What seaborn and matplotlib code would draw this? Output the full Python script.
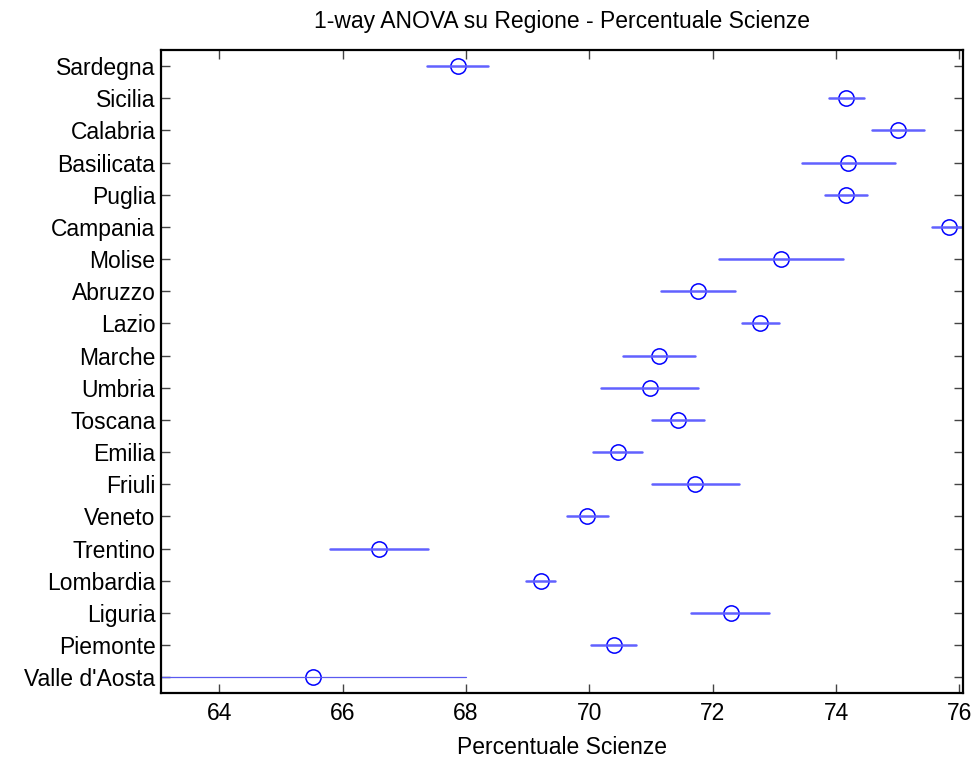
import numpy as np
import pandas as pd
import matplotlib
matplotlib.use("Agg")
import matplotlib.pyplot as plt
import seaborn as sns

# Regioni dall'alto verso il basso
regioni = ["Sardegna", "Sicilia", "Calabria", "Basilicata", "Puglia",
           "Campania", "Molise", "Abruzzo", "Lazio", "Marche", "Umbria",
           "Toscana", "Emilia", "Friuli", "Veneto", "Trentino", "Lombardia",
           "Liguria", "Piemonte", "Valle d'Aosta"]

# Medie stimate e intervalli di confronto
medie = [67.87, 74.17, 75.00, 74.20, 74.17, 75.83, 73.11, 71.77, 72.77, 71.13,
         70.98, 71.43, 70.46, 71.72, 69.97, 66.59, 69.21, 72.29, 70.40, 65.52]
inferiori = [67.36, 73.88, 74.58, 73.45, 73.82, 75.55, 72.11, 71.17, 72.47, 70.55,
             70.19, 71.01, 70.06, 71.01, 69.64, 65.80, 68.97, 71.65, 70.03, 63.04]
superiori = [68.35, 74.45, 75.42, 74.95, 74.51, 76.11, 74.11, 72.37, 73.08, 71.71,
             71.77, 71.86, 70.85, 72.43, 70.31, 67.38, 69.45, 72.92, 70.76, 68.00]

x_ticks = [64, 66, 68, 70, 72, 74, 76]


def disegna_grafico():
    # Tabella lunga: per ogni regione limite inferiore, media, limite superiore
    df = pd.DataFrame({
        "Regione": np.repeat(regioni, 3),
        "Valore": np.column_stack([inferiori, medie, superiori]).ravel(),
    })

    sns.set_theme(style="white")
    plt.rcParams["font.family"] = ["Liberation Sans", "DejaVu Sans"]
    plt.rcParams["text.color"] = "black"
    plt.rcParams["axes.labelcolor"] = "black"
    plt.rcParams["xtick.labelcolor"] = "black"
    plt.rcParams["ytick.labelcolor"] = "black"

    fig = plt.figure(figsize=(9.77, 7.59), dpi=100)
    ax = fig.add_axes([0.1648, 0.0866, 0.8206, 0.8475])

    # Mediana dei tre valori = media; intervallo 0-100 percentile = min-max
    sns.pointplot(data=df, x="Valore", y="Regione", order=regioni,
                  estimator="median", errorbar=("pi", 100),
                  linestyle="none", marker="o", markersize=11,
                  markerfacecolor="none", markeredgecolor="#0000ff",
                  markeredgewidth=1.1, color="#0000ff",
                  err_kws={"color": "#6161ff", "linewidth": 1.8},
                  ax=ax)

    # L'intervallo di Valle d'Aosta e' disegnato piu' sottile
    idx_valle = regioni.index("Valle d'Aosta")
    for linea in ax.lines:
        yd = np.asarray(linea.get_ydata(), dtype=float)
        if len(yd) == 2 and np.allclose(yd, idx_valle):
            linea.set_linewidth(0.9)
            linea.set_color("#5a5af0")

    ax.set_xlim(63.055, 76.055)
    ax.set_xticks(x_ticks)
    ax.set_title("1-way ANOVA su Regione - Percentuale Scienze",
                 fontsize=16.5, pad=15.5, color="black")
    ax.set_xlabel("Percentuale Scienze", fontsize=16.5, labelpad=7.5)
    ax.set_ylabel("")

    for lato in ["left", "right", "top", "bottom"]:
        ax.spines[lato].set_visible(True)
        ax.spines[lato].set_color("black")
        ax.spines[lato].set_linewidth(1.6)
    ax.tick_params(axis="both", which="both", direction="in", length=6.5,
                   width=1.0, color="#444444", labelsize=16.5, pad=6.5,
                   labelcolor="black",
                   top=True, right=True, left=True, bottom=True)
    ax.tick_params(axis="y", pad=4)
    ax.grid(False)

    fig.savefig("out.png", dpi=100)
    plt.close(fig)


if __name__ == "__main__":
    disegna_grafico()
